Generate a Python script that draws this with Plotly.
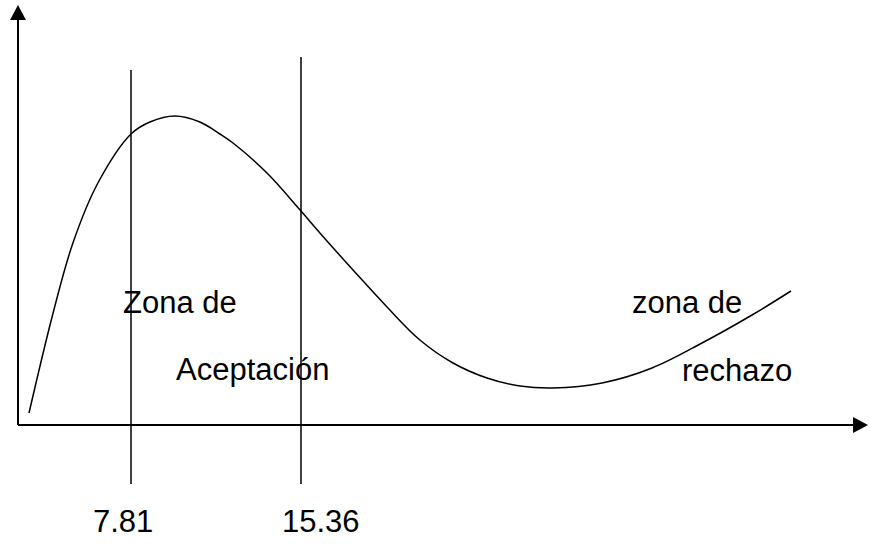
import plotly.graph_objects as go

# curva dibujada a mano (eje x en las mismas unidades que los valores criticos)
curve_x = [3.28, 4.35, 5.23, 6.34, 7.81, 8.65, 9.76, 10.87, 11.76, 12.34, 13.85,
           15.32, 16.20, 17.67, 19.18, 20.64, 22.11, 23.62, 25.09, 26.55, 28.73,
           30.95, 33.17, 35.39, 37.12]
curve_y = [0.012, 0.112, 0.182, 0.242, 0.291, 0.303, 0.309, 0.303, 0.291, 0.282,
           0.252, 0.215, 0.192, 0.155, 0.118, 0.085, 0.062, 0.047, 0.039, 0.037,
           0.042, 0.057, 0.082, 0.110, 0.134]

crit_values = [7.81, 15.36]
crit_labels = ["7.81", "15.36"]
crit_tops = [0.355, 0.368]

zone_labels = ["Zona de", "Aceptación", "zona de", "rechazo"]

X0, X1 = 1.992, 40.63
Y0, Y1 = -0.121, 0.425
px_x = (X1 - X0) / 870.0
px_y = (Y1 - Y0) / 546.0

font = dict(family="Liberation Sans, Arial, sans-serif", size=31, color="black")

fig = go.Figure()
fig.add_trace(go.Scatter(x=curve_x, y=curve_y, mode="lines",
                         line=dict(color="black", width=1.5, shape="spline", smoothing=1.0),
                         hoverinfo="skip", showlegend=False))

shapes = []
ax_x = X0 + 18 * px_x
# ejes
shapes.append(dict(type="line", xref="x", yref="y", x0=ax_x, x1=ax_x, y0=0, y1=0.407,
                   line=dict(color="black", width=2)))
shapes.append(dict(type="line", xref="x", yref="y", x0=ax_x, x1=X0 + 854 * px_x, y0=0, y1=0,
                   line=dict(color="black", width=2)))
# puntas de flecha
tip_y = 0.420
shapes.append(dict(type="path", xref="x", yref="y",
                   path="M %f,%f L %f,%f L %f,%f Z" % (ax_x, tip_y, ax_x - 8 * px_x, tip_y - 15 * px_y,
                                                      ax_x + 8 * px_x, tip_y - 15 * px_y),
                   fillcolor="black", line=dict(color="black", width=0)))
tip_x = X0 + 868 * px_x
shapes.append(dict(type="path", xref="x", yref="y",
                   path="M %f,0 L %f,%f L %f,%f Z" % (tip_x, tip_x - 15 * px_x, 8 * px_y,
                                                     tip_x - 15 * px_x, -8 * px_y),
                   fillcolor="black", line=dict(color="black", width=0)))
# valores criticos
for v, top in zip(crit_values, crit_tops):
    shapes.append(dict(type="line", xref="x", yref="y", x0=v, x1=v, y0=-0.059, y1=top,
                       line=dict(color="black", width=1.5)))

annotations = []
label_pos = [(121, 302), (174, 369), (630, 302), (680, 370)]
for t, (px, py) in zip(zone_labels, label_pos):
    annotations.append(dict(x=X0 + px * px_x, y=(425 - py) / 1000.0, text=t, showarrow=False,
                            xanchor="left", yanchor="middle", font=font))
for v, t, dx in zip(crit_values, crit_labels, [-8, 20]):
    annotations.append(dict(x=v, y=(425 - 521) / 1000.0, text=t, showarrow=False,
                            xanchor="center", yanchor="middle", xshift=dx, font=font))

fig.update_layout(
    width=870, height=546,
    margin=dict(l=0, r=0, t=0, b=0),
    paper_bgcolor="white", plot_bgcolor="white",
    xaxis=dict(range=[X0, X1], visible=False),
    yaxis=dict(range=[Y0, Y1], visible=False),
    shapes=shapes, annotations=annotations,
)
fig.write_html("out.html", config={"displayModeBar": False},
               post_script="document.body.style.margin='0';")
